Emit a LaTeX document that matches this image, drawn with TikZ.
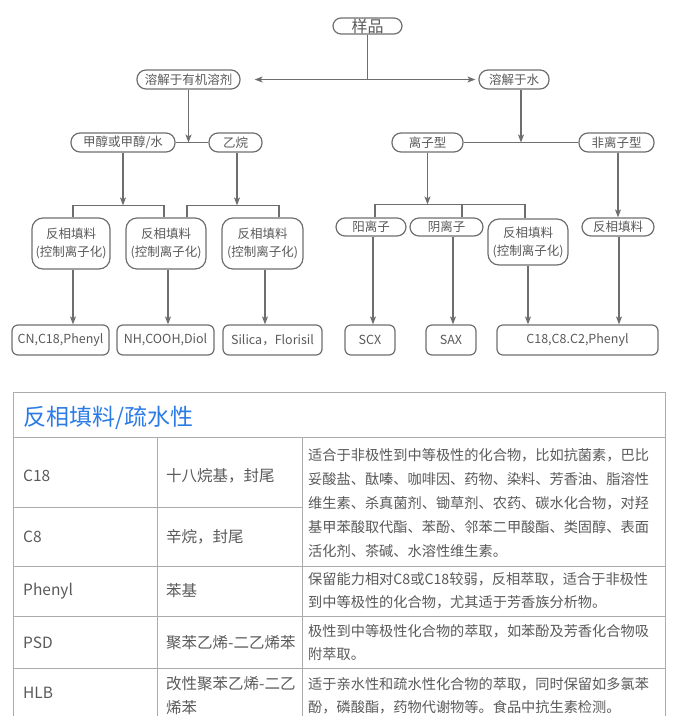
\documentclass[tikz,border=0pt]{standalone}
\usepackage{fontspec}
\setmainfont{Noto Sans CJK SC}
\usetikzlibrary{arrows.meta}

\definecolor{linegray}{HTML}{6E6E6E}
\definecolor{textgray}{HTML}{595959}
\definecolor{rulegray}{HTML}{ABABAB}
\definecolor{titleblue}{HTML}{2B7BE6}

\begin{document}
\begin{tikzpicture}[x=1pt,y=-1pt,
		box/.style={draw=linegray, line width=1.2pt, text=textgray, inner sep=0pt, font=\fontsize{12.5}{18}\selectfont, align=center},
		pill/.style={box, rounded corners=9pt, minimum height=19pt},
		tall/.style={box, rounded corners=11pt, minimum height=51pt},
		leaf/.style={box, rounded corners=6pt, minimum height=30pt},
		link/.style={draw=linegray, line width=1.2pt},
		arrow/.style={link, -{Stealth[length=8pt,width=6pt,inset=2pt]}},
		cell/.style={anchor=west, inner sep=0pt, text=textgray, font=\fontsize{15.5}{24}\selectfont, align=left},
		note/.style={cell, font=\fontsize{14.2}{23}\selectfont}]
		\useasboundingbox (0,0) rectangle (676,716);
		
		% Draw the solvents
		\node[pill, minimum width=69pt, minimum height=16pt, rounded corners=8pt, font=\fontsize{16}{18}\selectfont] (sample) at (367.5,26) {样品};
		\node[pill, minimum width=103pt] (organic) at (188.5,79.5) {溶解于有机溶剂};
		\node[pill, minimum width=70pt] (water) at (514,79.5) {溶解于水};
		\node[pill, minimum width=104pt] (methanol) at (123,142.5) {甲醇或甲醇/水};
		\node[pill, minimum width=53pt] (hexane) at (235.5,142.5) {乙烷};
		\node[pill, minimum width=71pt] (ionic) at (427.5,142.5) {离子型};
		\node[pill, minimum width=75pt] (nonionic) at (616.5,142.5) {非离子型};
		
		% Draw the packings
		\node[tall, minimum width=78pt] (rpA) at (71,243.5) {反相填料\\(控制离子化)};
		\node[tall, minimum width=80pt] (rpB) at (166,243.5) {反相填料\\(控制离子化)};
		\node[tall, minimum width=81pt] (rpC) at (262.5,243.5) {反相填料\\(控制离子化)};
		\node[pill, minimum width=70pt, minimum height=18pt] (cation) at (371,227) {阳离子};
		\node[pill, minimum width=73pt, minimum height=18pt] (anion) at (446.5,227) {阴离子};
		\node[tall, minimum width=80pt, minimum height=46pt] (rpD) at (528,242) {反相填料\\(控制离子化)};
		\node[pill, minimum width=72pt, minimum height=18pt] (rpE) at (618,227) {反相填料};
		
		% Draw the sorbents
		\node[leaf, minimum width=97pt] (cn) at (60.5,340) {CN,C18,Phenyl};
		\node[leaf, minimum width=97pt] (nh) at (165.5,340) {NH,COOH,Diol};
		\node[leaf, minimum width=99pt] (silica) at (272.5,340) {Silica，Florisil};
		\node[leaf, minimum width=50pt] (scx) at (370,340) {SCX};
		\node[leaf, minimum width=50pt] (sax) at (451,340) {SAX};
		\node[leaf, minimum width=161pt] (c18) at (577.5,340) {C18,C8.C2,Phenyl};
		
		% Connect the solvents
		\coordinate (split) at (sample.south |- organic.east);
		\draw[link] (sample.south) -- (split);
		\draw[arrow] (split) -- ([xshift=14pt]organic.east);
		\draw[arrow] (split) -- ([xshift=-3pt]water.west);
		\draw[link] (methanol.east) -- (hexane.west);
		\draw[arrow] (organic.south) -- (organic.south |- hexane.west);
		\draw[link] (ionic.east) -- (nonionic.west);
		\draw[arrow] ([xshift=7pt]water.south) -- ([xshift=7pt]water.south |- ionic.east);
		
		% Branch to the packings
		\draw[link] ([xshift=2pt]rpA.north) -- ++(0,-12) coordinate (barA) -| ([xshift=-2pt]rpB.north);
		\draw[arrow] (methanol.south) -- (methanol.south |- barA);
		\draw[link] ([xshift=21pt]rpB.north) -- ++(0,-12) coordinate (barB) -| ([xshift=16.5pt]rpC.north);
		\draw[arrow] ([xshift=1.5pt]hexane.south) -- ([xshift=1.5pt]hexane.south |- barB);
		\draw[link] ([xshift=4pt]cation.north) -- ++(0,-13) coordinate (barC) -| ([xshift=-3pt]rpD.north);
		\draw[link] ([xshift=15.5pt]anion.north) -- ([xshift=15.5pt]anion.north |- barC);
		\draw[arrow] (ionic.south) -- (ionic.south |- barC);
		\draw[arrow] ([xshift=1.5pt]nonionic.south) -- ([xshift=1.5pt]nonionic.south |- rpE.north);
		
		% Down to the sorbents
		\foreach \a/\b/\s in {rpA/cn/2, rpB/nh/2, rpC/silica/2.5, cation/scx/2, anion/sax/6.5, rpD/c18/0, rpE/c18/1}
			\draw[arrow] ([xshift=\s pt]\a.south) -- ([xshift=\s pt]\a.south |- \b.north);
		
		% Draw the table
		\draw[rulegray, line width=1pt] (13,716) -- (13,392) -- (665,392) -- (665,716);
		\draw[rulegray] (13,437) -- (665,437);
		\draw[rulegray] (13,507) -- (302,507);
		\foreach \y in {566,616,668}
			\draw[rulegray] (13,\y) -- (665,\y);
		\foreach \x in {157,302}
			\draw[rulegray] (\x,437) -- (\x,716);
		
		% Fill the table
		\node[anchor=west, inner sep=0pt, text=titleblue, font=\fontsize{23}{24}\selectfont] (title) at (23,418) {反相填料/疏水性};
		\node[cell] (c18name) at (23,476) {C18};
		\node[cell] (c18base) at (166,476) {十八烷基，封尾};
		\node[cell] (c8name) at (23,537) {C8};
		\node[cell] (c8base) at (166,537) {辛烷，封尾};
		\node[note, font=\fontsize{14.2}{24}\selectfont] (c18use) at (308,503) {适合于非极性到中等极性的化合物，比如抗菌素，巴比\\妥酸盐、酞嗪、咖啡因、药物、染料、芳香油、脂溶性\\维生素、杀真菌剂、锄草剂、农药、碳水化合物，对羟\\基甲苯酸取代酯、苯酚、邻苯二甲酸酯、类固醇、表面\\活化剂、茶碱、水溶性维生素。};
		\node[cell] (phname) at (23,591) {Phenyl};
		\node[cell] (phbase) at (166,591) {苯基};
		\node[note] (phuse) at (308,591) {保留能力相对C8或C18较弱，反相萃取，适合于非极性\\到中等极性的化合物，尤其适于芳香族分析物。};
		\node[cell] (psdname) at (23,643) {PSD};
		\node[cell] (psdbase) at (166,643) {聚苯乙烯-二乙烯苯};
		\node[note] (psduse) at (308,643) {极性到中等极性化合物的萃取，如苯酚及芳香化合物吸\\附萃取。};
		\node[cell] (hlbname) at (23,693) {HLB};
		\node[cell] (hlbbase) at (166,696) {改性聚苯乙烯-二乙\\烯苯};
		\node[note] (hlbuse) at (308,696) {适于亲水性和疏水性化合物的萃取，同时保留如多氯苯\\酚，磷酸酯，药物代谢物等。食品中抗生素检测。};
	\end{tikzpicture}
\end{document}
